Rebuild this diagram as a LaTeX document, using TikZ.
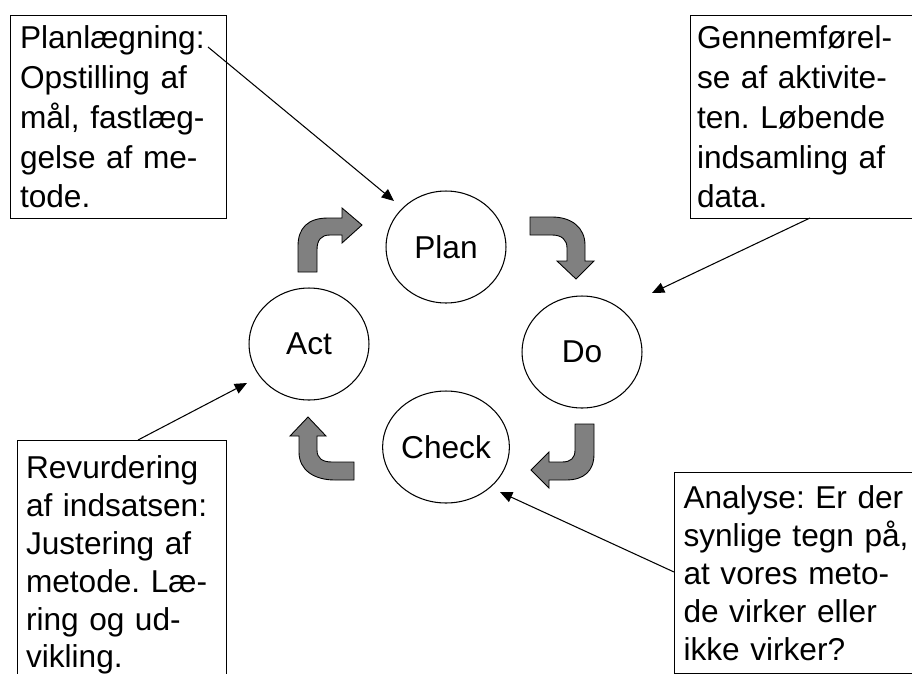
\documentclass[tikz,border=0pt]{standalone}
\usepackage{fontspec}
\setmainfont{Liberation Sans}
\usepackage{xcolor}
\usetikzlibrary{shapes.geometric,arrows.meta}
\definecolor{pilgray}{RGB}{128,128,128}
\frenchspacing

\begin{document}
\begin{tikzpicture}[x=0.02cm,y=-0.02cm,
		cyc/.style={draw,ellipse,line width=0.6pt,minimum width=2.4cm,minimum height=2.24cm,inner sep=0pt,font=\fontsize{18pt}{22pt}\selectfont},
		topbox/.style={draw,line width=0.6pt,anchor=north west,align=left,inner ysep=0.2cm,font=\fontsize{18pt}{22.7pt}\selectfont},
		lowbox/.style={draw,line width=0.6pt,anchor=north west,align=left,font=\fontsize{18pt}{21.5pt}\selectfont},
		pil/.style={draw=black,fill=pilgray,line width=0.5pt},
		ptr/.style={-{Triangle[length=7pt,width=6pt]},line width=0.6pt}]
		\useasboundingbox (0,0) rectangle (912,673);
		\clip (0,0) rectangle (912,673);
		% the four stages
		\node[cyc] (plan) at (446,247) {Plan};
		\node[cyc] (do) at (582,352) {Do};
		\node[cyc] (check) at (446,447) {Check};
		\node[cyc] (act) at (309,344) {Act};
		% the turning arrows between them
		\draw[pil] (298,272) -- (298,246) .. controls (298,228) and (308,218) .. (328,218) -- (342,218) -- (342,208) -- (362,225) -- (342,243) -- (342,235) -- (330,235) .. controls (321,235) and (317,240) .. (317,250) -- (317,272) -- cycle;
		\draw[pil] (530,217) -- (552,217) .. controls (572,217) and (585,228) .. (585,245) -- (585,261) -- (594,261) -- (576,279) -- (557,261) -- (567,261) -- (567,248) .. controls (567,240) and (562,235) .. (552,235) -- (530,235) -- cycle;
		\draw[pil] (594,424) -- (594,454) .. controls (594,471) and (584,480) .. (566,480) -- (549,480) -- (549,488) -- (531,470) -- (549,452) -- (549,462) -- (562,462) .. controls (571,462) and (575,458) .. (575,450) -- (575,424) -- cycle;
		\draw[pil] (354,480) -- (335,480) .. controls (314,480) and (299,470) .. (299,452) -- (299,436) -- (290,436) -- (308,417) -- (326,436) -- (317,436) -- (317,450) .. controls (317,458) and (322,462) .. (332,462) -- (354,462) -- cycle;
		% the four comments
		\node[topbox,inner xsep=0.19cm,text width=3.94cm] (plantxt) at (10,15) {Planlægning:\\Opstilling af\\mål, fastlæg-\\gelse af me-\\tode.};
		\node[topbox,inner xsep=0.13cm,text width=4.6cm] (dotxt) at (690,15) {Gennemførel-\\se af aktivite-\\ten. Løbende\\indsamling af\\data.};
		\node[lowbox,inner xsep=0.17cm,inner ysep=0.31cm,text width=3.84cm] (acttxt) at (17,440) {Revurdering\\af indsatsen:\\Justering af\\metode. Læ-\\ring og ud-\\vikling.};
		\node[lowbox,inner xsep=0.18cm,inner ysep=0.27cm,text width=4.6cm] (checktxt) at (674,472) {Analyse: Er der\\synlige tegn på,\\at vores meto-\\de virker eller\\ikke virker?};
		\coordinate (plansrc) at (208,47);
		\coordinate (plantip) at (394,201);
		\coordinate (dosrc) at (810,218);
		\coordinate (dotip) at (652,293);
		\coordinate (actsrc) at (138,440);
		\coordinate (acttip) at (247,383);
		\coordinate (checksrc) at (674,572);
		\coordinate (checktip) at (500,492);
		\draw[ptr] (plansrc) -- (plantip);
		\draw[ptr] (dosrc) -- (dotip);
		\draw[ptr] (actsrc) -- (acttip);
		\draw[ptr] (checksrc) -- (checktip);
	\end{tikzpicture}
\end{document}
